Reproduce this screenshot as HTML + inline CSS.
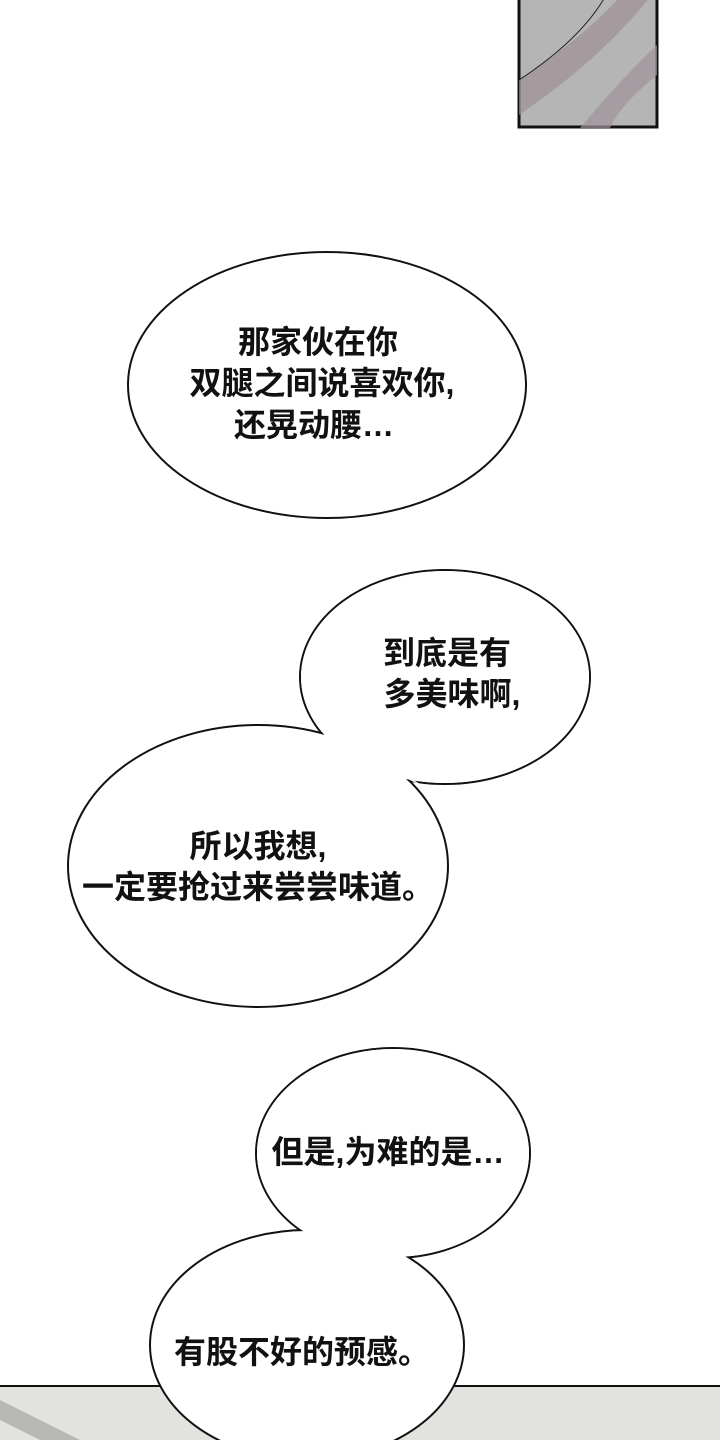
<!DOCTYPE html>
<html><head><meta charset="utf-8"><style>
html,body{margin:0;padding:0;background:#fff}
svg{display:block}
text{font-family:"Liberation Sans","Noto Sans CJK SC",sans-serif;font-size:32px;font-weight:bold;fill:#111;text-anchor:middle}
</style></head><body>
<svg width="720" height="1440" viewBox="0 0 720 1440">
<rect width="720" height="1440" fill="#fff"/>
<rect x="519" y="-3" width="138" height="130" fill="#b5b5b5" stroke="#111" stroke-width="3"/>
<path d="M519 80 Q580 40 620 -3 L650 -3 Q600 60 519 115Z" fill="#9e9094" opacity="0.7"/>
<path d="M580 128 Q620 80 657 45 L657 75 Q620 105 610 128Z" fill="#a0939a" opacity="0.7"/>
<path d="M519 80 Q580 40 605 -3" fill="none" stroke="#222" stroke-width="1"/>
<rect x="0" y="1386" width="720" height="60" fill="#e2e2de"/>
<line x1="0" y1="1386" x2="720" y2="1386" stroke="#111" stroke-width="2"/>
<path d="M0 1400 L80 1440 L40 1440 L0 1420Z" fill="#b8b8b4"/>
<ellipse cx="327" cy="385" rx="199" ry="133" fill="#fff" stroke="#111" stroke-width="2"/>
<ellipse cx="445" cy="677" rx="145" ry="107" fill="#fff" stroke="#111" stroke-width="2"/>
<ellipse cx="258" cy="866" rx="190" ry="141" fill="#fff" stroke="#111" stroke-width="2"/>
<ellipse cx="445" cy="677" rx="144" ry="106" fill="#fff"/>
<polygon points="320,735 410,780 430,790 380,760" fill="#fff"/>
<ellipse cx="393" cy="1153" rx="137" ry="105" fill="#fff" stroke="#111" stroke-width="2"/>
<ellipse cx="307" cy="1345" rx="157" ry="115" fill="#fff" stroke="#111" stroke-width="2"/>
<ellipse cx="393" cy="1153" rx="136" ry="104" fill="#fff"/>
<text x="318" y="353">那家伙在你</text>
<text x="322" y="394">双腿之间说喜欢你,</text>
<text x="314" y="436">还晃动腰…</text>
<text x="447" y="664">到底是有</text>
<text x="452" y="705">多美味啊,</text>
<text x="258" y="857">所以我想,</text>
<text x="258" y="898">一定要抢过来尝尝味道。</text>
<text x="388" y="1163">但是,为难的是…</text>
<text x="302" y="1363">有股不好的预感。</text>
</svg>
</body></html>
